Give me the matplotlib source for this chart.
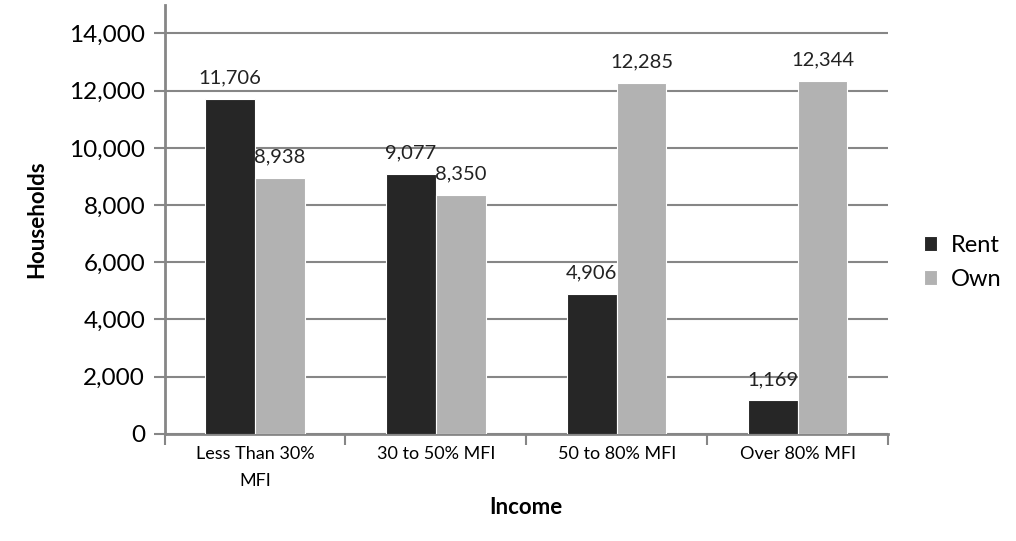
import numpy as np
import matplotlib.pyplot as plt

plt.rcParams['font.family'] = ['Lato', 'DejaVu Sans']

categories = ["Less Than 30%\nMFI", "30 to 50% MFI", "50 to 80% MFI", "Over 80% MFI"]
rent = [11706, 9077, 4906, 1169]
own = [8938, 8350, 12285, 12344]
yticks = [0, 2000, 4000, 6000, 8000, 10000, 12000, 14000]

fig = plt.figure(figsize=(10.16, 5.41), dpi=100)
ax = fig.add_axes([0.162, 0.198, 0.712, 0.793])

x = np.arange(len(categories))
w = 0.275
grid_col = "#868686"

b1 = ax.bar(x - w / 2, rent, w, color="#262626", edgecolor="white", linewidth=0.8,
            label="Rent", zorder=3)
b2 = ax.bar(x + w / 2, own, w, color="#b2b2b2", edgecolor="white", linewidth=0.8,
            label="Own", zorder=3)

for bars in (b1, b2):
    for r in bars:
        ax.annotate(f"{int(r.get_height()):,}", (r.get_x() + r.get_width() / 2, r.get_height()),
                    xytext=(0, 9), textcoords="offset points", ha="center", va="bottom",
                    fontsize=14.5, color="#222222", zorder=4)

ax.set_xlim(-0.5, 3.5)
ax.set_ylim(0, 15000)
ax.set_yticks(yticks)
ax.set_yticklabels([f"{v:,}" for v in yticks], fontsize=17.5)
ax.yaxis.grid(True, color=grid_col, linewidth=1.5, zorder=0)
ax.tick_params(axis="y", length=8, width=1.5, color=grid_col, pad=6)

# category labels in the middle, tick marks on the group boundaries
ax.set_xticks(x)
ax.set_xticklabels(categories, fontsize=13, linespacing=1.8)
ax.tick_params(axis="x", length=0, pad=9)
ax.set_xticks(np.arange(-0.5, 4.0, 1.0), minor=True)
ax.tick_params(axis="x", which="minor", length=8, width=1.5, color=grid_col)

for s in ("top", "right"):
    ax.spines[s].set_visible(False)
for s in ("left", "bottom"):
    ax.spines[s].set_color(grid_col)
    ax.spines[s].set_linewidth(2)

ax.set_xlabel("Income", fontsize=16, fontweight="bold", labelpad=6)
ax.set_ylabel("Households", fontsize=16, fontweight="bold", labelpad=16)

ax.legend(loc="center left", bbox_to_anchor=(1.02, 0.40), frameon=False, fontsize=17,
          handlelength=0.55, handleheight=0.55, handletextpad=0.6, labelspacing=0.55)

fig.savefig("out.png", dpi=100)
